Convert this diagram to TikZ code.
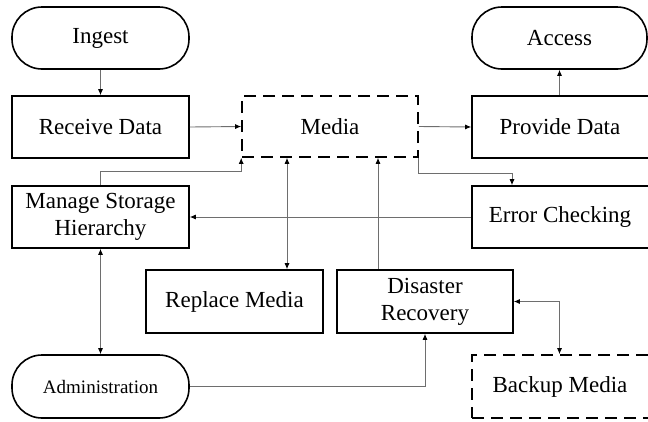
\documentclass[tikz,border=0pt]{standalone}
\usepackage{fontspec}
\setmainfont{Liberation Serif}
\newfontfamily\tmsfont{Liberation Serif}
\usetikzlibrary{arrows.meta,calc}
\definecolor{lineg}{RGB}{110,110,110}
\begin{document}
\begin{tikzpicture}[x=1pt,y=-1pt,
  box/.style={draw=black,line width=1.6pt,minimum width=177pt,minimum height=62pt,inner sep=0pt,align=center,font=\tmsfont\fontsize{23}{27}\selectfont},
  stad/.style={box,rounded corners=30pt},
  dbox/.style={box,dash pattern=on 12pt off 7pt},
  conn/.style={draw=lineg,line width=0.9pt},
  tip/.style={-{Latex[color=black,length=6pt,width=5pt]}},
  dtip/.style={{Latex[color=black,length=6pt,width=5pt]}-{Latex[color=black,length=6pt,width=5pt]}}]
\useasboundingbox (0,0) rectangle (648,421);
\clip (0,0) rectangle (648,421);
\node[stad] (ingest) at (100.5,38) {Ingest};
\node[box] (receive) at (100.5,127) {Receive Data};
\node[dbox,minimum width=176pt,minimum height=61pt] (media) at (330,126.5) {Media};
\node[stad,minimum width=175pt] (access) at (559.5,38) {Access};
\node[box,minimum width=180pt] (provide) at (562,127) {\hspace*{-4pt}Provide Data};
\node[box,minimum width=180pt] (error) at (562,217) {\hspace*{-4pt}Error Checking};
\node[box] (manage) at (100.5,217) {Manage Storage\\Hierarchy};
\node[box,minimum height=63pt] (replace) at (234.5,301.5) {Replace Media};
\node[box,minimum width=176pt,minimum height=63pt] (disaster) at (425,301.5) {Disaster\\Recovery};
\node[stad,minimum height=63pt,font=\tmsfont\fontsize{19}{23}\selectfont] (admin) at (100.5,386.5) {Administration};
\node[dbox,minimum width=180pt,minimum height=63pt] (backup) at (562,386.5) {\hspace*{-4pt}Backup Media};

\draw[conn,tip] (ingest.south) -- (receive.north);
\draw[conn,tip] (receive.east) -- (media.west);
\draw[conn,tip] (manage.north) -- ++(0,-14) -| (media.south west);
\draw[conn,tip] (media.east) -- (provide.west);
\draw[conn,tip] (provide.north -| access.south) -- (access.south);
\draw[conn,tip] (media.south east) -- ++(0,16) -| ([xshift=-50pt]error.north);
\draw[conn,tip] (error.west) -- (manage.east);
\draw[conn,dtip] ([xshift=-43pt]media.south) -- ([xshift=-43pt]media.south |- replace.north);
\draw[conn,tip] ([xshift=-47pt]disaster.north) -- ([xshift=-47pt]disaster.north |- media.south);
\draw[conn,dtip] (manage.south) -- (admin.north);
\draw[conn,tip] (admin.east) -| (disaster.south);
\draw[conn,dtip] (disaster.east) -| (backup.north -| access.south);
\end{tikzpicture}
\end{document}
